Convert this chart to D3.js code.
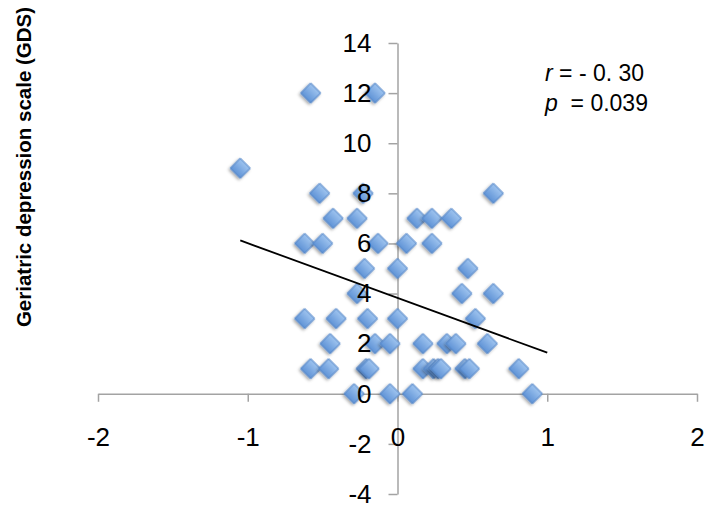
<!DOCTYPE html>
<html>
<head>
<meta charset="utf-8">
<script src="https://cdn.jsdelivr.net/npm/d3@7"></script>
<style>
  body { margin: 0; background: #fff; }
  svg { display: block; font-family: "Liberation Sans", Arial, sans-serif; }
</style>
</head>
<body>
<div id="chart"></div>
<script>
const width = 709, height = 510;

// data
const xVals = [-0.58, -0.15, -1.05, -0.52, -0.23, 0.64, -0.43, -0.27, 0.13, 0.23, 0.36,
               -0.62, -0.50, -0.13, 0.06, 0.23, -0.22, 0.00, 0.47, -0.27, 0.43, 0.64,
               -0.62, -0.41, -0.20, 0.00, 0.52, -0.45, -0.15, -0.05, 0.17, 0.33, 0.39, 0.60,
               -0.58, -0.46, -0.21, -0.19, 0.17, 0.24, 0.27, 0.29, 0.45, 0.48, 0.81,
               -0.29, -0.05, 0.10, 0.90];
const yVals = [12, 12, 9, 8, 8, 8, 7, 7, 7, 7, 7,
               6, 6, 6, 6, 6, 5, 5, 5, 4, 4, 4,
               3, 3, 3, 3, 3, 2, 2, 2, 2, 2, 2, 2,
               1, 1, 1, 1, 1, 1, 1, 1, 1, 1, 1,
               0, 0, 0, 0];
const trendX = [-1.05, 1.0];
const trendY = [6.12, 1.64];
const xTicks = [-2, -1, 0, 1, 2];
const yTicks = [-4, -2, 0, 2, 4, 6, 8, 10, 12, 14];
const yTitle = 'Geriatric depression scale (GDS)';

const points = xVals.map((d, i) => ({x: d, y: yVals[i]}));

const svg = d3.select('#chart').append('svg')
    .attr('width', width).attr('height', height);

const x = d3.scaleLinear().domain([-2, 2]).range([98, 697]);
const y = d3.scaleLinear().domain([-4, 14]).range([494, 43]);
const fmt = d => String(d); // plain hyphen minus, as in the original

const defs = svg.append('defs');
const grad = defs.append('linearGradient')
    .attr('id', 'dgrad').attr('x1', 0).attr('y1', 0).attr('x2', 0).attr('y2', 1);
grad.append('stop').attr('offset', '0%').attr('stop-color', '#9fc4ef');
grad.append('stop').attr('offset', '100%').attr('stop-color', '#5f93d6');
defs.append('filter').attr('id', 'shadow')
    .attr('x', '-50%').attr('y', '-50%').attr('width', '200%').attr('height', '200%')
    .append('feDropShadow')
    .attr('dx', 0).attr('dy', 2).attr('stdDeviation', 1.5)
    .attr('flood-color', '#000').attr('flood-opacity', 0.35);

// axis lines and ticks (labels drawn later, above the points)
svg.append('g')
    .attr('transform', `translate(${x(0)},0)`)
    .call(d3.axisLeft(y).tickValues(yTicks).tickSize(9).tickSizeOuter(0).tickFormat(''));
svg.append('g')
    .attr('transform', `translate(0,${y(0)})`)
    .call(d3.axisBottom(x).tickValues(xTicks).tickSize(8).tickSizeOuter(0).tickFormat(''));
svg.selectAll('.domain, .tick line')
    .attr('stroke', '#a3a3a3').attr('stroke-width', 1.5);

// points
const diamond = d3.symbol().type(d3.symbolSquare).size(200);
svg.append('g').selectAll('path')
    .data(points)
    .enter()
    .append('path')
    .attr('d', diamond)
    .attr('transform', d => `translate(${x(d.x)},${y(d.y)}) rotate(45)`)
    .attr('fill', 'url(#dgrad)')
    .attr('stroke', '#5386c8')
    .attr('stroke-width', 1)
    .attr('filter', 'url(#shadow)');

// trend line
svg.append('path')
    .datum(trendX.map((d, i) => ({x: d, y: trendY[i]})))
    .attr('d', d3.line().x(d => x(d.x)).y(d => y(d.y)))
    .attr('fill', 'none')
    .attr('stroke', '#000')
    .attr('stroke-width', 1.8);

// tick labels
const yLab = svg.append('g')
    .attr('transform', `translate(${x(0)},0)`)
    .call(d3.axisLeft(y).tickValues(yTicks).tickSize(0).tickPadding(26).tickFormat(fmt));
const xLab = svg.append('g')
    .attr('transform', `translate(0,${y(0)})`)
    .call(d3.axisBottom(x).tickValues(xTicks).tickSize(0).tickPadding(34).tickFormat(fmt));
[yLab, xLab].forEach(g => {
  g.select('.domain').remove();
  g.selectAll('text')
    .attr('fill', '#000')
    .style('font-size', '26px')
    .style('font-family', '"Liberation Sans", Arial, sans-serif');
});

// axis title
svg.append('text')
    .attr('transform', 'translate(31,167) rotate(-90)')
    .attr('text-anchor', 'middle')
    .style('font-size', '20.5px')
    .style('font-weight', 'bold')
    .text(yTitle);

// stats annotation
const ann = svg.append('g').style('font-size', '23px');
const t1 = ann.append('text').attr('x', 545).attr('y', 81);
t1.append('tspan').style('font-style', 'italic').text('r');
t1.append('tspan').text(' = - 0. 30');
const t2 = ann.append('text').attr('x', 545).attr('y', 111).attr('xml:space', 'preserve');
t2.append('tspan').style('font-style', 'italic').text('p');
t2.append('tspan').text('  = 0.039');
</script>
</body>
</html>
